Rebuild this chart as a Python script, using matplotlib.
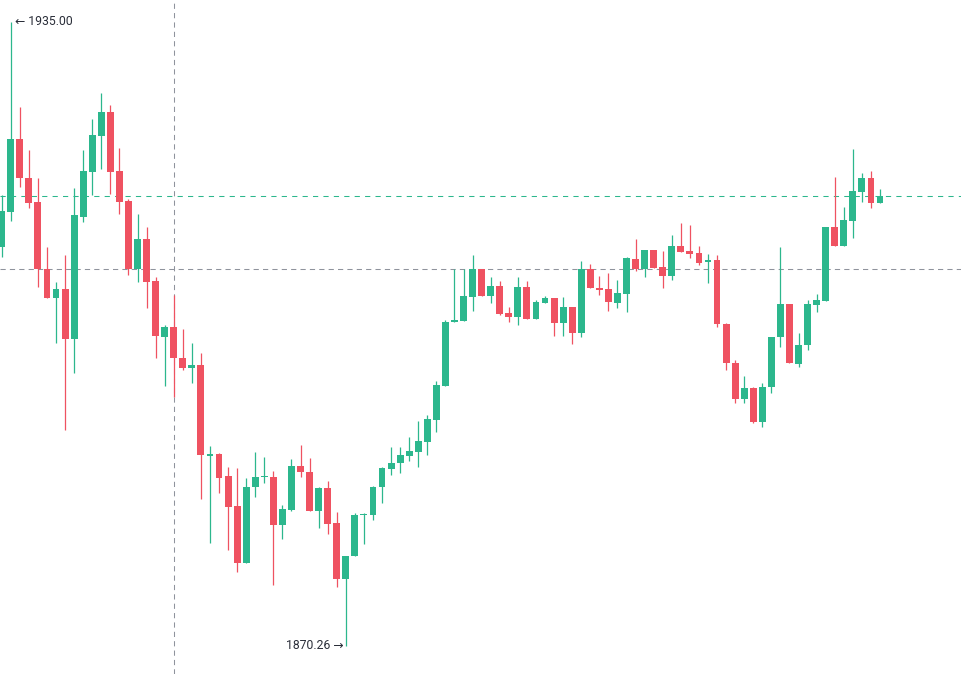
import matplotlib
matplotlib.use("Agg")
import matplotlib.pyplot as plt
import numpy as np

# OHLC values
opens = [1911.65, 1915.28, 1922.86, 1918.82, 1916.32, 1909.37, 1906.36, 1907.30, 1902.11, 1914.77,
         1919.44, 1923.18, 1925.67, 1919.54, 1916.43, 1909.37, 1912.48, 1908.13, 1902.32, 1903.36,
         1900.14, 1899.11, 1899.42, 1889.97, 1890.18, 1887.90, 1884.79, 1878.87, 1886.75, 1887.79,
         1887.79, 1882.82, 1884.37, 1888.93, 1888.31, 1884.27, 1886.65, 1883.02, 1877.21, 1879.60,
         1883.85, 1883.85, 1886.75, 1888.62, 1889.24, 1889.97, 1890.39, 1891.42, 1893.71, 1897.24,
         1903.88, 1903.98, 1906.47, 1909.37, 1906.57, 1907.61, 1904.81, 1904.40, 1907.50, 1904.19,
         1905.85, 1906.36, 1903.77, 1905.43, 1902.74, 1909.37, 1907.40, 1907.30, 1905.85, 1906.78,
         1910.41, 1909.37, 1911.34, 1909.58, 1908.65, 1911.76, 1911.24, 1911.03, 1910.10, 1910.31,
         1903.67, 1899.62, 1895.89, 1897.03, 1893.50, 1897.13, 1902.32, 1905.75, 1899.52, 1901.49,
         1905.64, 1906.06, 1913.73, 1911.76, 1914.35, 1917.36, 1918.82, 1916.22]
highs = [1917.05, 1935.00, 1926.18, 1921.72, 1918.82, 1911.65, 1908.02, 1910.82, 1917.78, 1921.72,
         1924.94, 1927.64, 1926.39, 1921.93, 1916.63, 1915.08, 1913.73, 1908.54, 1903.57, 1906.67,
         1903.15, 1901.70, 1900.66, 1891.01, 1890.28, 1888.83, 1888.73, 1887.69, 1890.39, 1889.87,
         1888.41, 1884.89, 1889.66, 1891.11, 1889.76, 1886.75, 1887.38, 1884.17, 1879.60, 1884.06,
         1884.06, 1886.86, 1888.83, 1890.90, 1890.90, 1891.94, 1893.60, 1894.22, 1897.76, 1904.09,
         1909.37, 1909.37, 1910.82, 1909.37, 1908.54, 1908.13, 1905.43, 1908.54, 1908.13, 1906.16,
         1906.57, 1906.36, 1906.47, 1905.43, 1910.20, 1909.89, 1908.65, 1908.96, 1908.23, 1910.62,
         1912.48, 1911.34, 1911.34, 1911.24, 1912.90, 1914.14, 1913.94, 1911.76, 1910.93, 1910.82,
         1903.77, 1899.94, 1898.28, 1897.13, 1897.55, 1902.32, 1911.65, 1905.75, 1902.74, 1906.16,
         1906.78, 1913.73, 1918.92, 1915.80, 1921.82, 1919.33, 1919.54, 1917.67]
lows = [1910.62, 1914.35, 1917.88, 1915.70, 1907.50, 1906.36, 1901.70, 1892.67, 1898.59, 1914.25,
        1917.05, 1919.75, 1917.16, 1915.08, 1908.75, 1908.02, 1905.33, 1900.14, 1897.24, 1896.10,
        1898.90, 1897.55, 1885.51, 1880.95, 1886.13, 1880.22, 1877.94, 1878.87, 1885.72, 1887.17,
        1876.59, 1881.36, 1884.27, 1887.79, 1884.27, 1882.51, 1881.88, 1876.38, 1870.26, 1879.60,
        1880.85, 1883.34, 1885.10, 1888.00, 1888.21, 1889.45, 1888.83, 1890.07, 1892.46, 1897.24,
        1903.88, 1903.98, 1905.02, 1906.57, 1905.85, 1904.60, 1903.88, 1903.57, 1904.19, 1904.19,
        1905.85, 1902.43, 1902.43, 1901.60, 1902.32, 1907.40, 1906.67, 1905.02, 1905.33, 1904.92,
        1909.16, 1908.54, 1909.47, 1907.40, 1908.23, 1911.14, 1910.51, 1909.79, 1907.92, 1903.36,
        1898.90, 1895.47, 1895.47, 1893.39, 1892.98, 1896.51, 1901.28, 1899.62, 1899.21, 1900.97,
        1904.92, 1906.06, 1911.76, 1911.76, 1912.59, 1916.32, 1915.70, 1916.22]
closes = [1915.39, 1922.86, 1918.82, 1916.22, 1909.37, 1906.36, 1907.30, 1902.11, 1914.97, 1919.54,
          1923.28, 1925.67, 1919.44, 1916.32, 1909.37, 1912.48, 1908.02, 1902.43, 1903.36, 1900.14,
          1899.11, 1899.42, 1890.07, 1890.18, 1887.69, 1884.68, 1878.87, 1886.75, 1887.79, 1887.90,
          1882.82, 1884.48, 1888.93, 1888.31, 1884.27, 1886.65, 1882.92, 1877.21, 1879.60, 1883.85,
          1883.96, 1886.75, 1888.73, 1889.24, 1890.07, 1890.49, 1891.53, 1893.81, 1897.34, 1903.88,
          1904.09, 1906.57, 1909.37, 1906.57, 1907.61, 1904.70, 1904.40, 1907.50, 1904.19, 1905.95,
          1906.36, 1903.77, 1905.43, 1902.74, 1909.37, 1907.40, 1907.19, 1905.95, 1906.88, 1910.51,
          1909.37, 1911.34, 1909.47, 1908.65, 1911.76, 1911.14, 1910.93, 1909.99, 1910.31, 1903.67,
          1899.62, 1895.89, 1897.03, 1893.50, 1897.13, 1902.32, 1905.75, 1899.62, 1901.49, 1905.75,
          1906.16, 1913.73, 1911.76, 1914.46, 1917.47, 1918.82, 1916.22, 1916.95]

high_label = "← 1935.00"
low_label = "1870.26 →"
crosshair_index = 19
crosshair_price = 1909.37

UP = "#2cb78d"
DOWN = "#ef5261"
TEXT = "#2a2e39"
CROSS = "#8f939c"

o = np.array(opens); h = np.array(highs); l = np.array(lows); c = np.array(closes)
x = np.arange(len(o))
up = c >= o
colors = np.where(up, UP, DOWN)

fig = plt.figure(figsize=(9.61, 6.74), dpi=100)
ax = fig.add_axes([0, 0, 1, 1])
ax.set_facecolor("white")
ax.set_xlim(-0.188, 105.94)
ax.set_ylim(1867.35, 1937.28)
ax.axis("off")

# crosshair
ax.axvline(crosshair_index, color=CROSS, lw=0.75, ls=(0, (5, 4)), zorder=1)
ax.axhline(crosshair_price, color=CROSS, lw=0.75, ls=(0, (5, 4)), zorder=1)

# last price line
ax.axhline(c[-1], color=UP, lw=0.75, ls=(0, (5, 5)), zorder=1)

# wicks
ax.vlines(x, l, h, colors=colors, lw=0.9, zorder=2)
# bodies
body_h = np.maximum(np.abs(c - o), 0.15)
body_b = np.minimum(o, c)
ax.bar(x, body_h, bottom=body_b, width=0.76, color=colors, lw=0, zorder=3)

fonts = ["Roboto", "DejaVu Sans"]
imax = int(np.argmax(h)); imin = int(np.argmin(l))
ax.annotate(high_label, xy=(imax, h[imax]), xytext=(3, 0), textcoords="offset points",
            ha="left", va="center", fontsize=8.8, color=TEXT, family=fonts)
ax.annotate(low_label, xy=(imin, l[imin]), xytext=(-1.5, 0), textcoords="offset points",
            ha="right", va="center", fontsize=8.8, color=TEXT, family=fonts)

fig.savefig("out.png", dpi=100, facecolor="white")
